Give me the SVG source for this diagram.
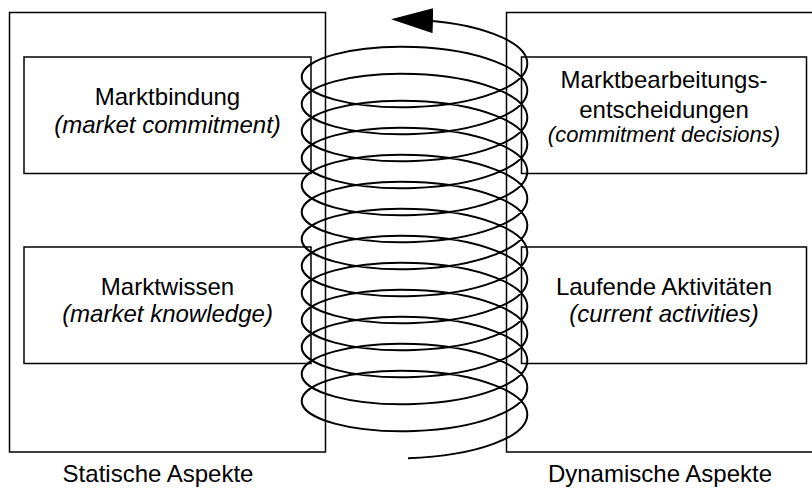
<svg xmlns="http://www.w3.org/2000/svg" width="812" height="489" viewBox="0 0 812 489">
<style>
.box{fill:none;stroke:#000;stroke-width:1.5}
.t{font-family:"Liberation Sans",Arial,sans-serif;font-size:24px;fill:#000;text-anchor:middle}
.i{font-style:italic}
.spiral{fill:none;stroke:#000;stroke-width:2}
</style>
<defs>
<marker id="ah" markerUnits="userSpaceOnUse" markerWidth="42" markerHeight="25" viewBox="0 0 42 25" refX="18.5" refY="12.5" orient="auto">
<path d="M42,12.5 L0,0 L0,25 Z" fill="#000"/>
</marker>
</defs>
<g id="statisch">
<rect class="box" x="9.5" y="12.5" width="316" height="439.5"/>
<text class="t" x="158" y="482">Statische Aspekte</text>
</g>
<g id="dynamisch">
<rect class="box" x="506.5" y="12.5" width="320" height="439.5"/>
<text class="t" x="660" y="482">Dynamische Aspekte</text>
</g>
<g id="marktbindung">
<rect class="box" x="24" y="57" width="287" height="116.5"/>
<text class="t" x="167.5" y="105">Marktbindung</text>
<text class="t i" x="167.5" y="132.5">(market commitment)</text>
</g>
<g id="marktwissen">
<rect class="box" x="24" y="247" width="287" height="116.5"/>
<text class="t" x="167.5" y="295">Marktwissen</text>
<text class="t i" x="167.5" y="322">(market knowledge)</text>
</g>
<g id="marktbearbeitung">
<rect class="box" x="521.5" y="57" width="285" height="116.5"/>
<text class="t" x="664" y="88">Marktbearbeitungs-</text>
<text class="t" x="664" y="117.5">entscheidungen</text>
<text class="t i" x="664" y="142" style="font-size:22px">(commitment decisions)</text>
</g>
<g id="laufende">
<rect class="box" x="521.5" y="247" width="285" height="116.5"/>
<text class="t" x="664" y="295">Laufende Aktivitäten</text>
<text class="t i" x="664" y="322">(current activities)</text>
</g>
<g id="connectors">
<path class="spiral" marker-end="url(#ah)" d="M408,458.2
C476.8,455.75 527.3,437.05 527.3,414.5 C527.3,391.95 476.8,373.25 414.5,371 C352.2,368.75 301.7,382.95 301.7,401 C301.7,419.05 352.2,433.25 414.5,431
C476.8,428.75 527.3,410.05 527.3,387.5 C527.3,364.95 476.8,346.25 414.5,344 C352.2,341.75 301.7,355.95 301.7,374 C301.7,392.05 352.2,406.25 414.5,404
C476.8,401.75 527.3,383.05 527.3,360.5 C527.3,337.95 476.8,319.25 414.5,317 C352.2,314.75 301.7,328.95 301.7,347 C301.7,365.05 352.2,379.25 414.5,377
C476.8,374.75 527.3,356.05 527.3,333.5 C527.3,310.95 476.8,292.25 414.5,290 C352.2,287.75 301.7,301.95 301.7,320 C301.7,338.05 352.2,352.25 414.5,350
C476.8,347.75 527.3,329.05 527.3,306.5 C527.3,283.95 476.8,265.25 414.5,263 C352.2,260.75 301.7,274.95 301.7,293 C301.7,311.05 352.2,325.25 414.5,323
C476.8,320.75 527.3,302.05 527.3,279.5 C527.3,256.95 476.8,238.25 414.5,236 C352.2,233.75 301.7,247.95 301.7,266 C301.7,284.05 352.2,298.25 414.5,296
C476.8,293.75 527.3,275.05 527.3,252.5 C527.3,229.95 476.8,211.25 414.5,209 C352.2,206.75 301.7,220.95 301.7,239 C301.7,257.05 352.2,271.25 414.5,269
C476.8,266.75 527.3,248.05 527.3,225.5 C527.3,202.95 476.8,184.25 414.5,182 C352.2,179.75 301.7,193.95 301.7,212 C301.7,230.05 352.2,244.25 414.5,242
C476.8,239.75 527.3,221.05 527.3,198.5 C527.3,175.95 476.8,157.25 414.5,155 C352.2,152.75 301.7,166.95 301.7,185 C301.7,203.05 352.2,217.25 414.5,215
C476.8,212.75 527.3,194.05 527.3,171.5 C527.3,148.95 476.8,130.25 414.5,128 C352.2,125.75 301.7,139.95 301.7,158 C301.7,176.05 352.2,190.25 414.5,188
C476.8,185.75 527.3,167.05 527.3,144.5 C527.3,121.95 476.8,103.25 414.5,101 C352.2,98.75 301.7,112.95 301.7,131 C301.7,149.05 352.2,163.25 414.5,161
C476.8,158.75 527.3,140.05 527.3,117.5 C527.3,94.95 476.8,76.25 414.5,74 C352.2,71.75 301.7,85.95 301.7,104 C301.7,122.05 352.2,136.25 414.5,134
C476.8,131.75 527.3,113.05 527.3,90.5 C527.3,67.95 476.8,49.25 414.5,47 C352.2,44.75 301.7,58.95 301.7,77 C301.7,95.05 352.2,109.25 414.5,107
C476.8,104.75 527.3,86.05 527.3,63.5 C527.3,40.95 476.8,22.25 414.5,20"/>
</g>
</svg>
